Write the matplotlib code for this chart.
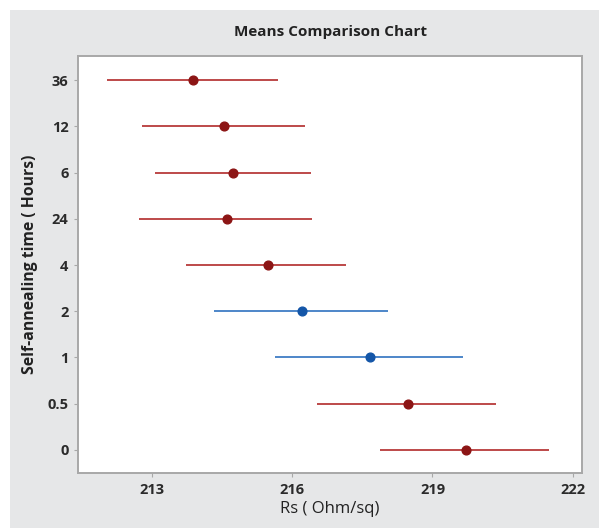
import matplotlib.pyplot as plt
from matplotlib.patches import Rectangle

# Means comparison: interval per self-annealing time
labels = ['0', '0.5', '1', '2', '4', '24', '6', '12', '36']
means = [219.72, 218.48, 217.66, 216.21, 215.47, 214.61, 214.73, 214.54, 213.87]
lower = [217.88, 216.52, 215.63, 214.33, 213.73, 212.72, 213.05, 212.77, 212.02]
upper = [221.49, 220.36, 219.65, 218.05, 217.14, 216.43, 216.40, 216.27, 215.70]
groups = ['red', 'red', 'blue', 'blue', 'red', 'red', 'red', 'red', 'red']

line_colors = {'red': '#b22a2a', 'blue': '#2f72c0'}
dot_colors = {'red': '#8c1515', 'blue': '#1456a8'}

plt.rcParams['font.family'] = ['Open Sans', 'DejaVu Sans']

fig = plt.figure(figsize=(5.99, 5.28), dpi=100)
fig.patch.set_facecolor('white')
fig.patches.append(Rectangle((10 / 599, 0), 1, 1 - 10 / 528, transform=fig.transFigure,
                             facecolor='#e6e7e8', edgecolor='none', zorder=-5))

ax = fig.add_axes([0.1307, 0.1042, 0.8404, 0.7903])
ax.set_facecolor('white')

for i in range(len(labels)):
    g = groups[i]
    ax.plot([lower[i], upper[i]], [i, i], color=line_colors[g], lw=1.2, solid_capstyle='butt', zorder=2)
    ax.plot(means[i], i, 'o', color=dot_colors[g], markersize=6.3, zorder=3)

ax.set_xlim(211.415, 222.195)
ax.set_ylim(-0.5, 8.53)
ax.set_xticks([213, 216, 219, 222])
ax.set_yticks(range(len(labels)))
ax.set_yticklabels(labels)

for s in ax.spines.values():
    s.set_color('#a8a8a8')
    s.set_linewidth(1.4)
ax.tick_params(length=3, width=0.8, color='#a8a8a8', labelsize=10.5, labelcolor='#2b2b2b', pad=4)
for t in ax.get_xticklabels() + ax.get_yticklabels():
    t.set_fontweight('bold')

ax.set_xlabel('Rs ( Ohm/sq)', fontsize=12, fontweight='medium', color='#222222', labelpad=3)
ax.set_ylabel('Self-annealing time ( Hours)', fontsize=11.3, fontweight='bold', color='#222222', labelpad=7)
fig.text(0.551, 0.940, 'Means Comparison Chart', ha='center', va='center',
         fontsize=11, fontweight='bold', color='#222222')

fig.savefig('out.png', dpi=100, facecolor=fig.get_facecolor())
